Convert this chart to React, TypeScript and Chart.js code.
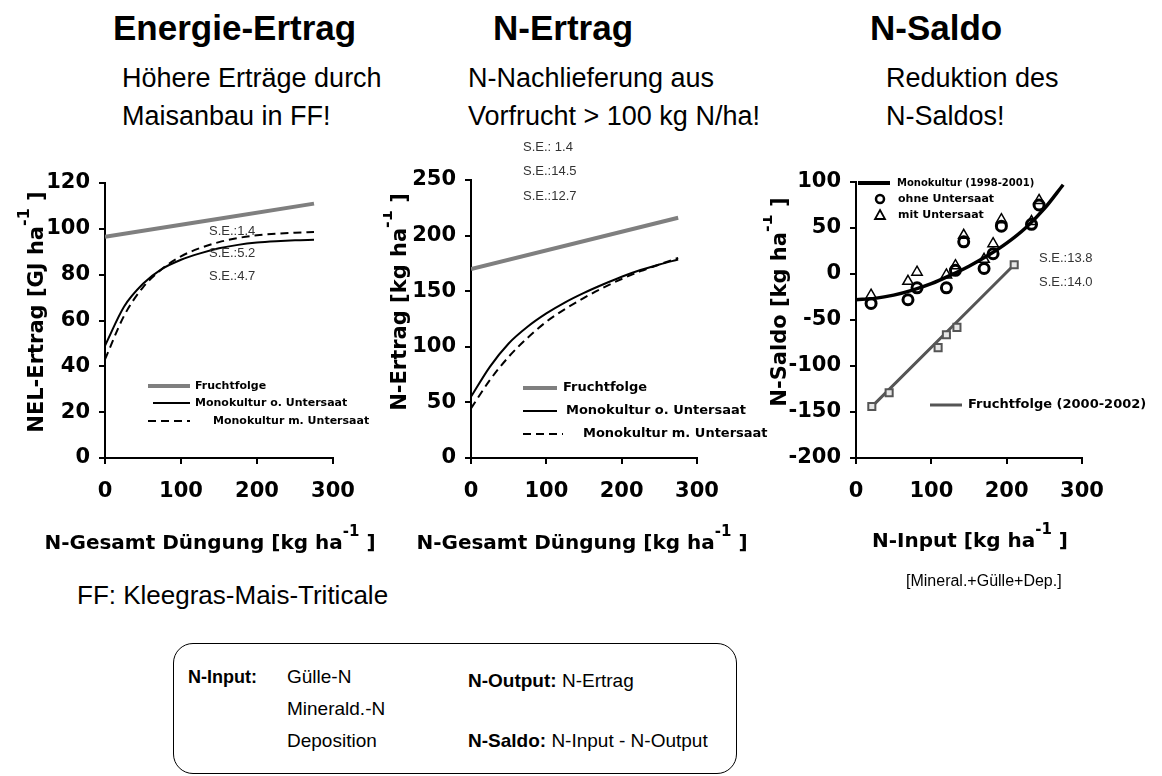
import React, { useEffect, useRef } from "react";
import { Chart, registerables } from "chart.js";
Chart.register(...registerables);

// ---------- data ----------
const CURVE_X = [0, 25, 50, 75, 100, 125, 150, 175, 200, 225, 250, 275];

// Energie-Ertrag (NEL, GJ/ha)
const NEL_FF_X = [0, 275];
const NEL_FF = [96.5, 111];
const NEL_MONO_OHNE = [49, 66, 76, 82.5, 86.5, 89.3, 91.5, 93, 94, 94.6, 95, 95.2];
const NEL_MONO_MIT = [43, 62, 74.5, 82.5, 88, 91.6, 94.2, 96, 97.2, 97.9, 98.3, 98.6];

// N-Ertrag (kg N/ha)
const NERT_FF_X = [0, 275];
const NERT_FF = [170, 216];
const NERT_MONO_OHNE = [55, 82, 103, 118, 130, 140, 148.5, 156, 163, 169, 174, 178.5];
const NERT_MONO_MIT = [44.6, 70, 91, 108, 122.5, 134, 144, 153, 161, 168, 174, 180];

// N-Saldo (kg N/ha)
const SALDO_MONO_FIT = [-28, -26.5, -23, -17.5, -10.5, -1.5, 8.5, 20, 33.5, 50, 71, 97];
const SALDO_OBS_X = [20, 69, 81, 120, 132, 143, 170, 182, 193, 233, 243];
const SALDO_OHNE = [-32, -28, -15, -15, 4, 35, 6, 22, 52, 54, 75];
const SALDO_MIT = [-23, -8, 2, -1, 9, 42, 16, 33, 59, 57, 80];
const SALDO_FF_X = [21, 44, 109, 120, 134, 210];
const SALDO_FF = [-144, -129, -80, -66, -58, 10];
const SALDO_FF_FIT_X = [20, 210];
const SALDO_FF_FIT = [-145, 10];

const SE_NEL = ["S.E.:1.4", "S.E.:5.2", "S.E.:4.7"];
const SE_NERT = ["S.E.: 1.4", "S.E.:14.5", "S.E.:12.7"];
const SE_SALDO = ["S.E.:13.8", "S.E.:14.0"];

const pts = (xs: number[], ys: number[]) => xs.map((x, i) => ({ x, y: ys[i] }));

// ---------- styling ----------
const GRAY = "#7f7f7f";
const CHART_FONT = "'DejaVu Sans', sans-serif";
const tickFont = { family: CHART_FONT, size: 21, weight: "bold" as const };

function axis(min: number, max: number, step: number, pad: number, fit: (s: any) => void) {
  return {
    type: "linear" as const,
    min,
    max,
    ticks: { stepSize: step, font: tickFont, color: "#000", padding: pad, maxRotation: 0, autoSkip: false },
    grid: { drawOnChartArea: false, drawTicks: true, tickLength: 6, color: "#000", lineWidth: 2 },
    border: { display: true, color: "#000", width: 2 },
    afterFit: fit,
  };
}

type Legend = {
  x1: number; x2: number; y: number; color: string; width: number; dash?: number[];
  marker?: "circle" | "triangle"; tx: number; text: string; size: number;
};
type Txt = { x: number; y: number; text: string };
type Title = { x: number; y: number; main: string; rotate?: boolean; size: number };

type Overlay = { ox: number; oy: number; legend: Legend[]; texts: Txt[]; titles: Title[] };

function makeOverlay(cfg: Overlay) {
  return {
    id: "overlay",
    afterDraw(chart: any) {
      const ctx: CanvasRenderingContext2D = chart.ctx;
      const { ox, oy } = cfg;
      ctx.save();
      cfg.legend.forEach((l) => {
        ctx.strokeStyle = l.color;
        if (l.marker === "circle") {
          ctx.lineWidth = 2.5;
          ctx.setLineDash([]);
          ctx.beginPath();
          ctx.arc((l.x1 + l.x2) / 2 - ox, l.y - oy, 4, 0, Math.PI * 2);
          ctx.stroke();
        } else if (l.marker === "triangle") {
          ctx.lineWidth = 1.8;
          ctx.setLineDash([]);
          const cx = (l.x1 + l.x2) / 2 - ox;
          const cy = l.y - oy;
          ctx.beginPath();
          ctx.moveTo(cx, cy - 5);
          ctx.lineTo(cx + 5, cy + 4);
          ctx.lineTo(cx - 5, cy + 4);
          ctx.closePath();
          ctx.stroke();
        } else {
          ctx.lineWidth = l.width;
          ctx.setLineDash(l.dash || []);
          ctx.beginPath();
          ctx.moveTo(l.x1 - ox, l.y - oy);
          ctx.lineTo(l.x2 - ox, l.y - oy);
          ctx.stroke();
        }
        ctx.setLineDash([]);
        ctx.fillStyle = "#000";
        ctx.font = `bold ${l.size}px ${CHART_FONT}`;
        ctx.textAlign = "left";
        ctx.textBaseline = "middle";
        ctx.fillText(l.text, l.tx - ox, l.y - oy);
      });
      ctx.font = "13px 'Liberation Sans', Arial, sans-serif";
      ctx.fillStyle = "#333";
      ctx.textAlign = "left";
      ctx.textBaseline = "middle";
      cfg.texts.forEach((t) => ctx.fillText(t.text, t.x - ox, t.y - oy));
      cfg.titles.forEach((t) => {
        const main = `bold ${t.size}px ${CHART_FONT}`;
        const supSize = Math.round(t.size * 0.75);
        const sup = `bold ${supSize}px ${CHART_FONT}`;
        ctx.save();
        ctx.translate(t.x - ox, t.y - oy);
        if (t.rotate) ctx.rotate(-Math.PI / 2);
        ctx.fillStyle = "#000";
        ctx.textBaseline = "alphabetic";
        ctx.textAlign = "left";
        ctx.font = main;
        const w1 = ctx.measureText(t.main).width;
        const w3 = ctx.measureText(" ]").width;
        ctx.font = sup;
        const w2 = ctx.measureText("-1").width;
        let sx = -(w1 + w2 + w3) / 2;
        const base = t.size * 0.36;
        ctx.font = main;
        ctx.fillText(t.main, sx, base);
        sx += w1;
        ctx.font = sup;
        ctx.fillText("-1", sx, base - t.size * 0.65);
        sx += w2;
        ctx.font = main;
        ctx.fillText(" ]", sx, base);
        ctx.restore();
      });
      ctx.restore();
    },
  };
}

type ChartSpec = {
  left: number; top: number; width: number; height: number;
  area: { left: number; top: number; right: number; bottom: number };
  x: [number, number, number];
  y: [number, number, number];
  datasets: any[];
  overlay: Omit<Overlay, "ox" | "oy">;
};

function ChartBox({ spec }: { spec: ChartSpec }) {
  const ref = useRef<HTMLCanvasElement | null>(null);
  useEffect(() => {
    if (!ref.current) return;
    const yW = spec.area.left - spec.left;
    const xH = spec.top + spec.height - spec.area.bottom;
    const chart = new Chart(ref.current, {
      type: "scatter",
      data: { datasets: spec.datasets },
      options: {
        responsive: false,
        animation: false,
        layout: {
          padding: {
            left: 0,
            top: spec.area.top - spec.top,
            right: spec.left + spec.width - spec.area.right,
            bottom: 0,
          },
        },
        plugins: { legend: { display: false }, tooltip: { enabled: false } },
        scales: {
          x: axis(spec.x[0], spec.x[1], spec.x[2], 15, (s: any) => { s.height = xH; }),
          y: axis(spec.y[0], spec.y[1], spec.y[2], 9, (s: any) => { s.width = yW; }),
        },
      } as any,
      plugins: [makeOverlay({ ox: spec.left, oy: spec.top, ...spec.overlay })],
    });
    return () => chart.destroy();
  }, [spec]);
  return (
    <div style={{ position: "absolute", left: spec.left, top: spec.top, width: spec.width, height: spec.height }}>
      <canvas ref={ref} width={spec.width} height={spec.height} style={{ width: spec.width, height: spec.height, display: "block" }} />
    </div>
  );
}

const curve = (xs: number[], ys: number[], color: string, width: number, dash?: number[]) => ({
  data: pts(xs, ys),
  showLine: true,
  borderColor: color,
  borderWidth: width,
  borderDash: dash || [],
  pointRadius: 0,
  cubicInterpolationMode: "monotone",
  fill: false,
});

const SPEC_NEL: ChartSpec = {
  left: 0, top: 150, width: 380, height: 420,
  area: { left: 105, top: 183, right: 333, bottom: 458 },
  x: [0, 300, 100],
  y: [0, 120, 20],
  datasets: [
    curve(NEL_FF_X, NEL_FF, GRAY, 4),
    curve(CURVE_X, NEL_MONO_OHNE, "#000", 2),
    curve(CURVE_X, NEL_MONO_MIT, "#000", 2, [8, 5]),
  ],
  overlay: {
    legend: [
      { x1: 148, x2: 190, y: 386, color: GRAY, width: 4, tx: 195, text: "Fruchtfolge", size: 11 },
      { x1: 153, x2: 190, y: 403, color: "#000", width: 2, tx: 195, text: "Monokultur o. Untersaat", size: 11 },
      { x1: 148, x2: 190, y: 421, color: "#000", width: 2, dash: [8, 5], tx: 213, text: "Monokultur m. Untersaat", size: 11 },
    ],
    texts: [
      { x: 209, y: 231, text: SE_NEL[0] },
      { x: 209, y: 253, text: SE_NEL[1] },
      { x: 209, y: 276, text: SE_NEL[2] },
    ],
    titles: [
      { x: 210, y: 542, main: "N-Gesamt Düngung [kg ha", size: 20 },
      { x: 35, y: 312, main: "NEL-Ertrag [GJ ha", rotate: true, size: 21 },
    ],
  },
};

const SPEC_NERT: ChartSpec = {
  left: 383, top: 130, width: 397, height: 440,
  area: { left: 471, top: 180, right: 697, bottom: 458 },
  x: [0, 300, 100],
  y: [0, 250, 50],
  datasets: [
    curve(NERT_FF_X, NERT_FF, GRAY, 4),
    curve(CURVE_X, NERT_MONO_OHNE, "#000", 2),
    curve(CURVE_X, NERT_MONO_MIT, "#000", 2, [8, 5]),
  ],
  overlay: {
    legend: [
      { x1: 523, x2: 557, y: 388, color: GRAY, width: 4, tx: 563, text: "Fruchtfolge", size: 13 },
      { x1: 523, x2: 557, y: 411, color: "#000", width: 2, tx: 566, text: "Monokultur o. Untersaat", size: 13 },
      { x1: 523, x2: 563, y: 434, color: "#000", width: 2, dash: [8, 5], tx: 583, text: "Monokultur m. Untersaat", size: 13 },
    ],
    texts: [
      { x: 523, y: 147, text: SE_NERT[0] },
      { x: 523, y: 171, text: SE_NERT[1] },
      { x: 523, y: 196, text: SE_NERT[2] },
    ],
    titles: [
      { x: 582, y: 542, main: "N-Gesamt Düngung [kg ha", size: 20 },
      { x: 398, y: 302, main: "N-Ertrag [kg ha", rotate: true, size: 21 },
    ],
  },
};

const SPEC_SALDO: ChartSpec = {
  left: 763, top: 150, width: 399, height: 420,
  area: { left: 856, top: 182, right: 1082, bottom: 458 },
  x: [0, 300, 100],
  y: [-200, 100, 50],
  datasets: [
    {
      data: pts(SALDO_FF_X, SALDO_FF),
      showLine: false,
      pointStyle: "rect",
      pointRadius: 5,
      pointBorderWidth: 2,
      pointBorderColor: "#555",
      pointBackgroundColor: "#e6e6e6",
    },
    {
      data: pts(SALDO_OBS_X, SALDO_OHNE),
      showLine: false,
      pointStyle: "circle",
      pointRadius: 5,
      pointBorderWidth: 3,
      pointBorderColor: "#000",
      pointBackgroundColor: "rgba(0,0,0,0)",
    },
    {
      data: pts(SALDO_OBS_X, SALDO_MIT),
      showLine: false,
      pointStyle: "triangle",
      pointRadius: 6,
      pointBorderWidth: 1.5,
      pointBorderColor: "#000",
      pointBackgroundColor: "rgba(0,0,0,0)",
    },
    curve(CURVE_X, SALDO_MONO_FIT, "#000", 3.5),
    curve(SALDO_FF_FIT_X, SALDO_FF_FIT, "#555", 3),
  ],
  overlay: {
    legend: [
      { x1: 858, x2: 890, y: 183, color: "#000", width: 4, tx: 897, text: "Monokultur (1998-2001)", size: 10 },
      { x1: 874, x2: 886, y: 199, color: "#000", width: 2, marker: "circle", tx: 898, text: "ohne Untersaat", size: 11 },
      { x1: 874, x2: 886, y: 215, color: "#000", width: 2, marker: "triangle", tx: 898, text: "mit Untersaat", size: 11 },
      { x1: 930, x2: 962, y: 405, color: "#555", width: 3, tx: 968, text: "Fruchtfolge (2000-2002)", size: 13 },
    ],
    texts: [
      { x: 1039, y: 258, text: SE_SALDO[0] },
      { x: 1039, y: 282, text: SE_SALDO[1] },
    ],
    titles: [
      { x: 970, y: 540, main: "N-Input [kg ha", size: 20 },
      { x: 778, y: 302, main: "N-Saldo [kg ha", rotate: true, size: 21 },
    ],
  },
};

const SANS = "'Liberation Sans', Arial, sans-serif";

function T({ x, y, size, bold, children }: { x: number; y: number; size: number; bold?: boolean; children: React.ReactNode }) {
  return (
    <div
      style={{
        position: "absolute",
        left: x,
        top: y - 0.8465 * size,
        fontFamily: SANS,
        fontSize: size,
        lineHeight: `${size}px`,
        fontWeight: bold ? 700 : 400,
        whiteSpace: "nowrap",
        color: "#000",
      }}
    >
      {children}
    </div>
  );
}

export default function App() {
  return (
    <div style={{ position: "absolute", left: 0, top: 0, width: 1162, height: 776, background: "#fff", overflow: "hidden" }}>
      <T x={113} y={40} size={35} bold>Energie-Ertrag</T>
      <T x={493} y={40} size={35} bold>N-Ertrag</T>
      <T x={870} y={40} size={35} bold>N-Saldo</T>

      <T x={122} y={88} size={27}>Höhere Erträge durch</T>
      <T x={122} y={126} size={27}>Maisanbau in FF!</T>
      <T x={468} y={88} size={27}>N-Nachlieferung aus</T>
      <T x={468} y={126} size={27}>Vorfrucht &gt; 100 kg N/ha!</T>
      <T x={886} y={88} size={27}>Reduktion des</T>
      <T x={886} y={126} size={27}>N-Saldos!</T>

      <ChartBox spec={SPEC_NEL} />
      <ChartBox spec={SPEC_NERT} />
      <ChartBox spec={SPEC_SALDO} />

      <T x={77} y={604} size={26}>FF: Kleegras-Mais-Triticale</T>
      <T x={906} y={587} size={16}>[Mineral.+Gülle+Dep.]</T>

      <div
        style={{
          position: "absolute",
          left: 173,
          top: 643,
          width: 564,
          height: 131,
          border: "1.5px solid #000",
          borderRadius: 20,
          boxSizing: "border-box",
        }}
      />
      <T x={188} y={683} size={18} bold>N-Input:</T>
      <T x={287} y={683} size={19}>Gülle-N</T>
      <T x={287} y={715} size={19}>Minerald.-N</T>
      <T x={287} y={747} size={19}>Deposition</T>
      <T x={468} y={687} size={19}><b>N-Output:</b> N-Ertrag</T>
      <T x={468} y={747} size={19}><b>N-Saldo:</b> N-Input - N-Output</T>
    </div>
  );
}
